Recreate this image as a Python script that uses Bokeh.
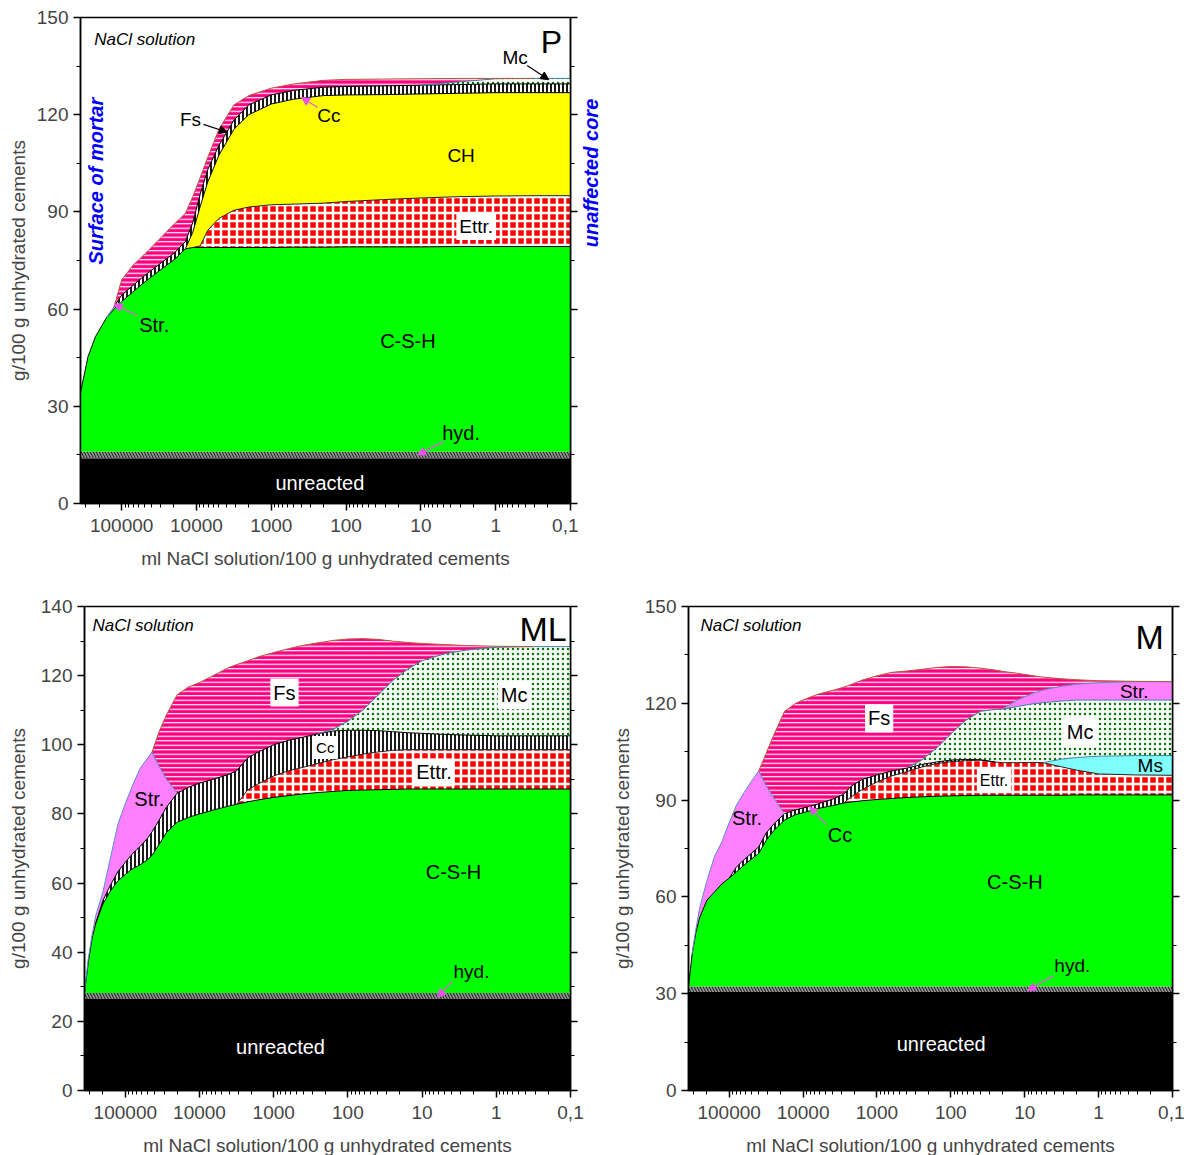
import numpy as np
from bokeh.plotting import figure
from bokeh.models import (Range1d, FixedTicker, LinearAxis, Label, Arrow, NormalHead,
                          CustomJSTickFormatter)
from bokeh.layouts import column, row
from bokeh.embed import file_html
from bokeh.resources import INLINE

FONT = "Liberation Sans"

# ---------------------------------------------------------------- axes
X_TICKS = [100000, 10000, 1000, 100, 10, 1, 0.1]
X_LABEL = "ml NaCl solution/100 g unhydrated cements"
Y_LABEL = "g/100 g unhydrated cements"

# ---------------------------------------------------------------- panel P
# upper boundary of every phase (cumulative, g/100 g), versus ml NaCl solution
P_x = [355000, 282000, 224000, 158000, 126000, 100000, 70800, 50100, 31600, 20000,
       14100, 11200, 8910, 7080, 5010, 3160, 2000, 1000, 501, 200,
       100, 31.6, 10, 3.16, 1, 0.316, 0.1]
P_unreacted = [14.0, 14.0, 14.0, 14.0, 14.0, 14.0, 14.0, 14.0, 14.0, 14.0,
               14.0, 14.0, 14.0, 14.0, 14.0, 14.0, 14.0, 14.0, 14.0, 14.0,
               14.0, 14.0, 14.0, 14.0, 14.0, 14.0, 14.0]
P_hyd = [16.0, 16.0, 16.0, 16.0, 16.0, 16.0, 16.0, 16.0, 16.0, 16.0,
         16.0, 16.0, 16.0, 16.0, 16.0, 16.0, 16.0, 16.0, 16.0, 16.0,
         16.0, 16.0, 16.0, 16.0, 16.0, 16.0, 16.0]
P_csh = [34.2, 45.3, 51.5, 57.5, 60.0, 62.3, 65.3, 68.2, 71.8, 75.2,
         78.6, 79.0, 79.0, 79.0, 79.0, 79.0, 79.0, 79.0, 79.1, 79.1,
         79.2, 79.2, 79.2, 79.3, 79.3, 79.3, 79.3]
P_str = [34.2, 45.3, 51.5, 57.5, 60.8, 62.3, 65.3, 68.2, 71.8, 75.2,
         78.6, 79.0, 79.0, 79.0, 79.0, 79.0, 79.0, 79.0, 79.1, 79.1,
         79.2, 79.2, 79.2, 79.3, 79.3, 79.3, 79.3]
P_ettr = [34.2, 45.3, 51.5, 57.5, 60.8, 62.3, 65.3, 68.2, 71.8, 75.2,
          78.6, 79.0, 79.5, 84.3, 88.0, 90.5, 91.5, 92.2, 92.4, 92.7,
          93.2, 93.8, 94.3, 94.7, 94.9, 95.0, 95.0]
P_ch = [34.2, 45.3, 51.5, 57.5, 60.8, 62.3, 65.3, 68.2, 71.8, 75.2,
        78.6, 83.7, 91.7, 99.2, 107.5, 115.5, 120.0, 123.3, 124.8, 125.9,
        126.1, 126.2, 126.4, 126.6, 126.8, 126.8, 126.8]
P_cc = [34.2, 45.3, 51.5, 57.5, 60.8, 64.3, 67.3, 70.2, 73.8, 77.2,
        80.8, 86.7, 95.5, 103.0, 110.5, 118.3, 123.0, 126.1, 127.5, 128.5,
        128.7, 128.9, 129.1, 129.3, 129.5, 129.5, 129.5]
P_mc = [34.2, 45.3, 51.5, 57.5, 60.8, 64.3, 67.3, 70.2, 73.8, 77.2,
        80.8, 86.7, 95.5, 103.0, 110.5, 118.3, 123.0, 126.1, 127.5, 128.5,
        128.7, 128.9, 129.1, 130.1, 131.1, 131.2, 131.2]
P_fs = [34.2, 45.3, 51.5, 57.5, 60.8, 69.0, 73.5, 76.8, 81.5, 86.2,
        89.5, 94.7, 100.6, 106.8, 115.5, 123.0, 125.9, 128.2, 129.5, 130.6,
        130.9, 131.0, 131.1, 131.2, 131.2, 131.2, 131.2]

# ---------------------------------------------------------------- panel ML
ML_x = [355000, 316000, 282000, 251000, 200000, 158000, 126000, 100000, 79400, 63100,
        50100, 43700, 35500, 28200, 20000, 14100, 10000, 6310, 3980, 3160,
        2240, 1580, 1000, 631, 398, 251, 158, 100, 63.1, 39.8,
        25.1, 15.8, 10, 5.01, 2.51, 1, 0.316, 0.1]
ML_unreacted = [26.5, 26.5, 26.5, 26.5, 26.5, 26.5, 26.5, 26.5, 26.5, 26.5,
                26.5, 26.5, 26.5, 26.5, 26.5, 26.5, 26.5, 26.5, 26.5, 26.5,
                26.5, 26.5, 26.5, 26.5, 26.5, 26.5, 26.5, 26.5, 26.5, 26.5,
                26.5, 26.5, 26.5, 26.5, 26.5, 26.5, 26.5, 26.5]
ML_hyd = [28.2, 28.2, 28.2, 28.2, 28.2, 28.2, 28.2, 28.2, 28.2, 28.2,
          28.2, 28.2, 28.2, 28.2, 28.2, 28.2, 28.2, 28.2, 28.2, 28.2,
          28.2, 28.2, 28.2, 28.2, 28.2, 28.2, 28.2, 28.2, 28.2, 28.2,
          28.2, 28.2, 28.2, 28.2, 28.2, 28.2, 28.2, 28.2]
ML_csh = [28.2, 37.0, 43.7, 48.3, 54.0, 57.8, 60.6, 62.5, 64.2, 65.3,
          66.8, 68.0, 71.0, 74.5, 77.6, 79.0, 80.0, 81.2, 82.3, 82.8,
          83.5, 84.1, 84.8, 85.3, 85.8, 86.2, 86.5, 86.8, 86.9, 87.0,
          87.1, 87.2, 87.2, 87.2, 87.2, 87.2, 87.2, 87.2]
ML_ettr = [28.2, 37.0, 43.7, 48.3, 54.0, 57.8, 60.6, 62.5, 64.2, 65.3,
           66.8, 68.0, 71.0, 74.5, 77.6, 79.0, 80.0, 81.2, 82.3, 82.8,
           87.0, 88.8, 91.0, 92.5, 93.5, 94.6, 95.7, 96.5, 97.3, 97.9,
           98.4, 98.6, 98.6, 98.6, 98.6, 98.6, 98.6, 98.6]
ML_cc = [28.2, 37.0, 43.7, 48.3, 55.0, 59.5, 63.3, 66.0, 68.6, 70.6,
         73.0, 74.8, 78.0, 81.8, 86.0, 87.7, 88.9, 90.1, 91.5, 92.5,
         96.2, 98.0, 100.0, 101.3, 102.2, 103.2, 104.0, 104.2, 104.2, 104.1,
         103.8, 103.5, 103.3, 103.0, 102.8, 102.6, 102.6, 102.6]
ML_str = [28.2, 38.0, 44.7, 50.5, 57.5, 67.5, 77.0, 83.0, 88.4, 93.2,
          96.2, 97.9, 94.0, 90.2, 86.0, 87.7, 88.9, 90.1, 91.5, 92.5,
          96.2, 98.0, 100.0, 101.3, 102.2, 103.2, 104.0, 104.2, 104.2, 104.1,
          103.8, 103.5, 103.3, 103.0, 102.8, 102.6, 102.6, 102.6]
ML_mc = [28.2, 38.0, 44.7, 50.5, 57.5, 67.5, 77.0, 83.0, 88.4, 93.2,
         96.2, 97.9, 94.0, 90.2, 86.0, 87.7, 88.9, 90.1, 91.5, 92.5,
         96.2, 98.0, 100.0, 101.3, 102.2, 103.2, 104.5, 106.8, 110.0, 114.2,
         118.5, 121.8, 124.3, 126.3, 127.4, 128.2, 128.4, 128.4]
ML_fs = [28.2, 38.0, 44.7, 50.5, 57.5, 67.5, 77.0, 83.0, 88.4, 93.2,
         96.2, 97.9, 103.5, 108.5, 114.5, 116.7, 118.0, 120.2, 122.4, 123.2,
         124.3, 125.5, 126.7, 127.8, 128.8, 129.5, 130.2, 130.6, 130.7, 130.5,
         130.0, 129.6, 129.3, 129.0, 128.7, 128.5, 128.4, 128.4]

# ---------------------------------------------------------------- panel M
M_x = [355000, 316000, 282000, 251000, 200000, 158000, 126000, 100000, 79400, 63100,
       50100, 39800, 31600, 25100, 17800, 12600, 8910, 6310, 3980, 2820,
       2240, 1580, 1000, 631, 398, 251, 158, 100, 63.1, 39.8,
       25.1, 20.0, 12.6, 7.94, 5.62, 3.16, 2.0, 1, 0.316, 0.1]
M_unreacted = [30.5, 30.5, 30.5, 30.5, 30.5, 30.5, 30.5, 30.5, 30.5, 30.5,
               30.5, 30.5, 30.5, 30.5, 30.5, 30.5, 30.5, 30.5, 30.5, 30.5,
               30.5, 30.5, 30.5, 30.5, 30.5, 30.5, 30.5, 30.5, 30.5, 30.5,
               30.5, 30.5, 30.5, 30.5, 30.5, 30.5, 30.5, 30.5, 30.5, 30.5]
M_hyd = [32.2, 32.2, 32.2, 32.2, 32.2, 32.2, 32.2, 32.2, 32.2, 32.2,
         32.2, 32.2, 32.2, 32.2, 32.2, 32.2, 32.2, 32.2, 32.2, 32.2,
         32.2, 32.2, 32.2, 32.2, 32.2, 32.2, 32.2, 32.2, 32.2, 32.2,
         32.2, 32.2, 32.2, 32.2, 32.2, 32.2, 32.2, 32.2, 32.2, 32.2]
M_csh = [32.2, 42.5, 49.0, 53.5, 59.0, 61.5, 64.0, 65.8, 67.8, 69.8,
         71.7, 73.5, 77.5, 80.5, 83.8, 85.5, 86.4, 87.4, 88.3, 89.1,
         89.4, 89.8, 90.2, 90.5, 90.8, 91.0, 91.2, 91.3, 91.4, 91.5,
         91.5, 91.5, 91.5, 91.5, 91.5, 91.5, 91.6, 91.6, 91.6, 91.6]
M_ettr = [32.2, 42.5, 49.0, 53.5, 59.0, 61.5, 64.0, 65.8, 67.8, 69.8,
          71.7, 73.5, 77.5, 80.5, 83.8, 85.5, 86.4, 87.4, 88.3, 89.1,
          91.0, 93.3, 95.6, 97.5, 98.8, 100.2, 101.3, 101.9, 102.2, 102.4,
          101.8, 101.6, 101.6, 101.7, 101.6, 100.3, 99.3, 98.1, 97.8, 97.7]
M_cc = [32.2, 42.5, 49.0, 53.5, 59.0, 61.5, 64.0, 65.8, 69.3, 71.5,
        73.5, 75.5, 79.8, 82.5, 85.8, 87.0, 87.8, 88.8, 90.3, 91.8,
        94.3, 96.4, 97.8, 99.0, 99.9, 101.0, 101.8, 102.4, 102.6, 102.5,
        101.8, 101.6, 101.6, 101.7, 101.6, 100.3, 99.3, 98.1, 97.8, 97.7]
M_ms = [32.2, 42.5, 49.0, 53.5, 59.0, 61.5, 64.0, 65.8, 69.3, 71.5,
        73.5, 75.5, 79.8, 82.5, 85.8, 87.0, 87.8, 88.8, 90.3, 91.8,
        94.3, 96.4, 97.8, 99.0, 99.9, 101.0, 101.8, 102.4, 102.6, 102.5,
        101.8, 101.6, 101.6, 101.7, 101.6, 102.7, 103.2, 103.6, 103.8, 103.8]
M_mc = [32.2, 42.5, 49.0, 53.5, 59.0, 61.5, 64.0, 65.8, 69.3, 71.5,
        73.5, 75.5, 79.8, 82.5, 85.8, 87.0, 87.8, 88.8, 90.3, 91.8,
        94.3, 96.4, 97.8, 99.0, 99.9, 102.3, 106.0, 110.5, 114.7, 117.5,
        118.1, 118.2, 119.0, 119.8, 120.2, 120.7, 121.0, 121.0, 121.0, 121.0]
M_str = [32.2, 42.5, 50.0, 56.5, 65.0, 72.5, 77.0, 83.0, 88.5, 92.3,
         95.8, 99.0, 94.5, 90.8, 85.8, 87.0, 87.8, 88.8, 90.3, 91.8,
         94.3, 96.4, 97.8, 99.0, 99.9, 102.3, 106.0, 110.5, 114.7, 117.5,
         118.1, 118.2, 121.0, 123.0, 124.1, 125.3, 125.9, 126.4, 126.7, 126.7]
M_fs = [32.2, 42.5, 50.0, 56.5, 65.0, 72.5, 77.0, 83.0, 88.5, 92.3,
        95.8, 99.0, 104.5, 110.0, 117.5, 120.0, 121.5, 122.8, 124.0, 125.0,
        125.8, 127.2, 128.5, 129.6, 130.0, 130.5, 131.1, 131.4, 131.3, 130.9,
        130.3, 129.9, 129.3, 128.6, 128.1, 127.6, 127.3, 127.0, 126.8, 126.7]

# ---------------------------------------------------------------- styles
STYLE = {
    "unreacted": dict(fill="black"),
    "hyd": dict(fill="#8c8c8c", hatch="left_diagonal_line", hcolor="#222222", hscale=6, hweight=1.0),
    "csh": dict(fill="#00ff00", line="black"),
    "str": dict(fill="#ff80ff", line="#5a8ac6"),
    "ettr": dict(fill="#ff0000", hatch="cross", hcolor="white", hscale=8, hweight=2.5, line="#222222"),
    "ch": dict(fill="#ffff00", line="black"),
    "cc": dict(fill="white", hatch="vertical_line", hcolor="black", hscale=4, hweight=1.8, line="black"),
    "ms": dict(fill="#80ffff", line="#3b7fa8"),
    "mc": dict(fill="white", hatch="dot", hcolor="#007a00", hscale=5, hweight=3, line="#3b7fa8"),
    "fs": dict(fill="#ff0080", hatch="horizontal_line", hcolor="white", hscale=4.5, hweight=1.2, line="#b4583c"),
}


def draw_layers(p, x, layers):
    lower = np.zeros(len(x))
    outlines = []
    for key, top in layers:
        top = np.asarray(top, dtype=float)
        st = STYLE[key]
        kw = dict(fill_color=st["fill"])
        if "hatch" in st:
            kw.update(hatch_pattern=st["hatch"], hatch_color=st["hcolor"],
                      hatch_scale=st["hscale"], hatch_weight=st["hweight"])
        p.varea(x=x, y1=lower, y2=top, **kw)
        if "line" in st:
            show = (top - lower) > 0.05
            ext = show.copy()
            ext[1:] |= show[:-1]
            ext[:-1] |= show[1:]
            outlines.append((np.where(ext, top, np.nan), st["line"]))
        lower = top
    for y, c in outlines:
        p.line(x, y, line_color=c, line_width=1)


def make_fig(ymax, ymajor, yminor, fw, fh, bl, br, bt, bb, ylab_standoff):
    p = figure(x_axis_type="log", x_range=Range1d(355000, 0.1), y_range=Range1d(0, ymax),
               frame_width=fw, frame_height=fh, min_border_left=bl, min_border_right=br,
               min_border_top=bt, min_border_bottom=bb, output_backend="svg",
               toolbar_location=None, background_fill_color="white")
    p.grid.visible = False
    p.outline_line_color = "black"
    p.outline_line_width = 1.5
    x_minor = [m * 10.0 ** e for e in range(-1, 6) for m in range(2, 10) if m * 10.0 ** e < 355000]
    p.xaxis.ticker = FixedTicker(ticks=X_TICKS, minor_ticks=x_minor)
    p.xaxis.formatter = CustomJSTickFormatter(
        code="return tick < 0.5 ? '0,1' : String(Math.round(tick));")
    p.yaxis.ticker = FixedTicker(ticks=list(range(0, ymax + 1, ymajor)),
                                 minor_ticks=list(range(0, ymax + 1, yminor)))
    p.xaxis.axis_label = X_LABEL
    p.yaxis.axis_label = Y_LABEL
    right = LinearAxis(ticker=FixedTicker(ticks=list(range(0, ymax + 1, ymajor)),
                                          minor_ticks=list(range(0, ymax + 1, yminor))),
                       major_label_text_font_size="1px", major_label_text_color=None,
                       major_label_standoff=0)
    p.add_layout(right, "right")
    for ax in [p.xaxis[0], p.yaxis[0], right]:
        ax.axis_line_width = 1.5
        ax.major_tick_line_width = 1.5
        ax.minor_tick_line_width = 1
        ax.major_tick_out = 7
        ax.major_tick_in = 0
        ax.minor_tick_out = 4
        ax.minor_tick_in = 0
        ax.major_label_text_font = FONT
        ax.axis_label_text_font = FONT
        ax.axis_label_text_font_style = "normal"
        ax.axis_label_text_font_size = "19px"
    p.xaxis.major_label_text_font_size = "19px"
    p.yaxis[0].major_label_text_font_size = "19px"
    p.xaxis.major_label_standoff = 8
    p.xaxis.axis_label_standoff = 13
    p.yaxis[0].major_label_standoff = 5
    p.yaxis[0].axis_label_standoff = ylab_standoff
    return p


def lab(p, x, y, text, size=20, color="black", style="normal", box=False,
        align="center", angle=0.0, baseline="middle"):
    kw = {}
    if box:
        kw = dict(background_fill_color="white", padding=3)
    p.add_layout(Label(x=x, y=y, text=text, text_font=FONT,
                       text_font_size=f"{size}px", text_color=color,
                       text_font_style=style, text_align=align,
                       text_baseline=baseline, angle=angle, **kw))


def arrow(p, x0, y0, x1, y1, color):
    p.add_layout(Arrow(x_start=x0, y_start=y0, x_end=x1, y_end=y1, line_color=color,
                       line_width=1.2,
                       end=NormalHead(size=8, fill_color=color, line_color=color)))


MAG = "#f050f0"

# ---------------------------------------------------------------- P
p1 = make_fig(150, 30, 15, 490, 486, 80, 8, 17, 66, 5)
draw_layers(p1, P_x, [("unreacted", P_unreacted), ("hyd", P_hyd), ("csh", P_csh),
                      ("str", P_str), ("ettr", P_ettr), ("ch", P_ch), ("cc", P_cc),
                      ("mc", P_mc), ("fs", P_fs)])
lab(p1, 233000, 143.2, "NaCl solution", 17, style="italic", align="left")
lab(p1, 0.18, 142.5, "P", 32)
lab(p1, 0.55, 137.7, "Mc", 19)
arrow(p1, 0.38, 135.2, 0.195, 130.8, "black")
lab(p1, 12000, 118.5, "Fs", 19)
arrow(p1, 8070, 117.0, 3850, 114.6, "black")
lab(p1, 170, 119.8, "Cc", 19)
arrow(p1, 240, 122.2, 393, 125.3, MAG)
lab(p1, 2.9, 107.4, "CH", 19)
lab(p1, 1.82, 85.5, "Ettr.", 19, box=True)
lab(p1, 14.9, 50.3, "C-S-H", 20)
lab(p1, 36700, 55.2, "Str.", 20)
arrow(p1, 62000, 58.0, 126000, 61.5, MAG)
lab(p1, 2.9, 21.9, "hyd.", 20)
arrow(p1, 5.0, 19.1, 11, 15.0, MAG)
lab(p1, 224, 6.2, "unreacted", 20, color="white")
lab(p1, 219000, 99.5, "Surface of mortar", 20, color="#0000ff", style="bold italic",
    angle=np.pi / 2)

# narrow strip to the right of P that carries the "unaffected core" note
side = figure(x_range=Range1d(0, 1), y_range=Range1d(0, 150), frame_width=28,
              frame_height=486, min_border_left=0, min_border_right=0,
              min_border_top=17, min_border_bottom=66, output_backend="svg",
              toolbar_location=None, background_fill_color="white")
side.axis.visible = False
side.grid.visible = False
side.outline_line_color = None
lab(side, 0.43, 102.0, "unaffected core", 20, color="#0000ff", style="bold italic",
    angle=np.pi / 2)

# ---------------------------------------------------------------- ML
p2 = make_fig(140, 20, 10, 486, 484, 84, 22, 35, 62, 9)
draw_layers(p2, ML_x, [("unreacted", ML_unreacted), ("hyd", ML_hyd), ("csh", ML_csh),
                       ("ettr", ML_ettr), ("cc", ML_cc), ("str", ML_str),
                       ("mc", ML_mc), ("fs", ML_fs)])
lab(p2, 277000, 134.5, "NaCl solution", 17, style="italic", align="left")
lab(p2, 0.234, 133.6, "ML", 34)
lab(p2, 716, 115.1, "Fs", 20, box=True)
lab(p2, 0.575, 114.3, "Mc", 20, box=True)
lab(p2, 202, 99.2, "Cc", 15, box=True)
lab(p2, 6.9, 92.0, "Ettr.", 20, box=True)
lab(p2, 47500, 84.2, "Str.", 20)
lab(p2, 3.77, 63.1, "C-S-H", 20)
lab(p2, 2.16, 34.4, "hyd.", 19)
arrow(p2, 3.9, 31.5, 6.2, 27.0, MAG)
lab(p2, 810, 12.7, "unreacted", 20, color="white")

# ---------------------------------------------------------------- M
p3 = make_fig(150, 30, 15, 484, 484, 96, 12, 35, 62, 9)
draw_layers(p3, M_x, [("unreacted", M_unreacted), ("hyd", M_hyd), ("csh", M_csh),
                      ("ettr", M_ettr), ("cc", M_cc), ("ms", M_ms), ("mc", M_mc),
                      ("str", M_str), ("fs", M_fs)])
lab(p3, 245000, 144.1, "NaCl solution", 17, style="italic", align="left")
lab(p3, 0.204, 140.7, "M", 34)
lab(p3, 933, 115.3, "Fs", 20, box=True)
lab(p3, 1.78, 111.2, "Mc", 20, box=True)
lab(p3, 0.33, 123.6, "Str.", 19)
lab(p3, 0.2, 100.7, "Ms", 19)
lab(p3, 26, 96.1, "Ettr.", 16, box=True)
lab(p3, 57300, 84.3, "Str.", 20)
lab(p3, 3160, 79.3, "Cc", 20)
arrow(p3, 4840, 82.4, 8150, 88.0, MAG)
lab(p3, 13.6, 64.5, "C-S-H", 20)
lab(p3, 2.27, 38.7, "hyd.", 19)
arrow(p3, 4.07, 35.6, 9.1, 31.0, MAG)
lab(p3, 135, 14.3, "unreacted", 20, color="white")

layout = column(row(p1, side), row(p2, p3))
open("out.html", "w").write(file_html(layout, INLINE))
